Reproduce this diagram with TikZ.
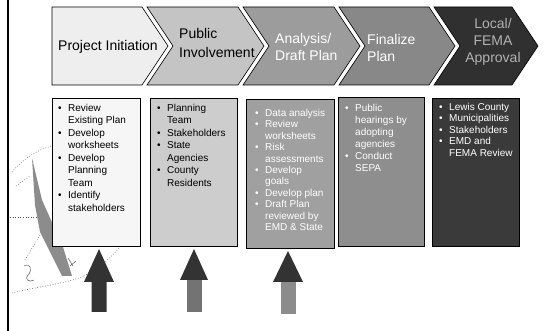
\documentclass[tikz,border=0pt]{standalone}
\usepackage{fontspec}
\setmainfont{Liberation Sans}
\newcommand{\bitem}[1]{\makebox[10pt][l]{•}#1}
\newcommand{\citem}[1]{\hspace*{10pt}#1}
\definecolor{chA}{HTML}{EEEEEE}
\definecolor{chB}{HTML}{C4C4C4}
\definecolor{chC}{HTML}{9C9C9C}
\definecolor{chD}{HTML}{888888}
\definecolor{chE}{HTML}{303030}
\definecolor{bxA}{HTML}{F6F6F6}
\definecolor{bxB}{HTML}{CDCDCD}
\definecolor{bxC}{HTML}{A0A0A0}
\definecolor{bxD}{HTML}{8E8E8E}
\definecolor{bxE}{HTML}{3A3A3A}
\begin{document}
\begin{tikzpicture}[x=1pt,y=-1pt,
  chev/.style={draw=black, line width=0.6pt},
  chtext/.style={inner sep=0pt, align=left, font=\fontsize{14}{17}\selectfont},
  boxr/.style={draw=black, line width=0.8pt},
  btext/.style={anchor=north west, inner sep=0pt, align=left},
  seal/.style={draw=black!70, line width=0.6pt, dotted},
  scrawl/.style={draw=black!65, line width=0.5pt}
]
\useasboundingbox (0,0) rectangle (544,331);
\fill[white] (0,0) rectangle (544,331);
% left rule
\draw[line width=2pt] (8,0) -- (8,331);

% faint seal impression at left
\fill[black!45] (32,158) -- (42,200) -- (63,247) -- (72,276) -- (62,276) -- (40,232) -- (35,205) -- cycle;
\draw[seal] (10,217) -- (38,217);
\draw[seal] (40,235) -- (25,260);
\draw[seal] (12,293) .. controls (40,286) and (65,284) .. (84,276);
\draw[seal] (84,276) .. controls (98,268) and (112,258) .. (120,246);
\draw[seal] (12,172) .. controls (22,160) and (36,150) .. (52,146);
\draw[seal] (16,186) -- (30,176);
\draw[scrawl] (24,266) .. controls (30,262) and (33,270) .. (28,275) .. controls (24,279) and (29,283) .. (34,280);
\draw[scrawl] (68,258) -- (73,266) (70,266) -- (76,261);

% chevrons
\filldraw[chev, fill=chA] (52,7) -- (142,7) -- (168,46) -- (142,85) -- (52,85) -- cycle;
\filldraw[chev, fill=chB] (147,7) -- (238,7) -- (264,46) -- (238,85) -- (147,85) -- (173,46) -- cycle;
\filldraw[chev, fill=chC] (243,7) -- (334,7) -- (360,46) -- (334,85) -- (243,85) -- (269,46) -- cycle;
\filldraw[chev, fill=chD] (339,7) -- (429,7) -- (455,46) -- (429,85) -- (339,85) -- (365,46) -- cycle;
\filldraw[chev, fill=chE] (434,7) -- (512,7) -- (538,46) -- (512,85) -- (434,85) -- (460,46) -- cycle;

\node[chtext] (t1) at (108,47) {Project Initiation};
\node[chtext, anchor=west] (t2) at (179,43) {Public\\[2pt]Involvement};
\node[chtext, anchor=west, text=white] (t3) at (275,47) {Analysis/\\Draft Plan};
\node[chtext, anchor=west, text=white] (t4) at (367,48) {Finalize\\Plan};
\node[chtext, align=center, text=black!30] (t5) at (493,42) {Local/\\FEMA\\Approval};

% boxes
\node[boxr, fill=bxA, anchor=north west, minimum width=88pt, minimum height=148pt, inner sep=0pt] (b1) at (52,98) {};
\node[boxr, fill=bxB, anchor=north west, minimum width=87pt, minimum height=148pt, inner sep=0pt] (b2) at (150,98) {};
\node[boxr, fill=bxC, anchor=north west, minimum width=88pt, minimum height=149pt, inner sep=0pt] (b3) at (246,99) {};
\node[boxr, fill=bxD, anchor=north west, minimum width=86pt, minimum height=149pt, inner sep=0pt] (b4) at (338,97) {};
\node[boxr, fill=bxE, anchor=north west, minimum width=87pt, minimum height=148pt, inner sep=0pt] (b5) at (432,98) {};

\node[btext, font=\fontsize{10}{12.5}\selectfont] (l1) at (58,104)
 {\bitem{Review}\\\citem{Existing Plan}\\\bitem{Develop}\\\citem{worksheets}\\\bitem{Develop}\\\citem{Planning}\\\citem{Team}\\\bitem{Identify}\\\citem{stakeholders}};
\node[btext, font=\fontsize{10}{12.5}\selectfont] (l2) at (157,104)
 {\bitem{Planning}\\\citem{Team}\\\bitem{Stakeholders}\\\bitem{State}\\\citem{Agencies}\\\bitem{County}\\\citem{Residents}};
\node[btext, text=white, font=\fontsize{10}{11.4}\selectfont] (l3) at (255,109)
 {\bitem{Data analysis}\\\bitem{Review}\\\citem{worksheets}\\\bitem{Risk}\\\citem{assessments}\\\bitem{Develop}\\\citem{goals}\\\bitem{Develop plan}\\\bitem{Draft Plan}\\\citem{reviewed by}\\\citem{EMD \& State}};
\node[btext, text=white, font=\fontsize{10}{12}\selectfont] (l4) at (345,104)
 {\bitem{Public}\\\citem{hearings by}\\\citem{adopting}\\\citem{agencies}\\\bitem{Conduct}\\\citem{SEPA}};
\node[btext, text=white, font=\fontsize{10}{11.5}\selectfont] (l5) at (439,103)
 {\bitem{Lewis County}\\\bitem{Municipalities}\\\bitem{Stakeholders}\\\bitem{EMD and}\\\citem{FEMA Review}};

% up arrows
\coordinate (a1) at (99,249);
\coordinate (a2) at (194,249);
\coordinate (a3) at (288,251);
\fill[black!80] (a1) -- ++(-15,33) -- ++(7.5,0) -- ++(0,30) -- ++(15,0) -- ++(0,-30) -- ++(7.5,0) -- cycle;
\fill[black!55] (194-7.5,280) rectangle (194+7.5,312);
\fill[black!80] (a2) -- ++(-14,31) -- ++(28,0) -- cycle;
\fill[black!45] (288-7.5,282) rectangle (288+7.5,314);
\fill[black!80] (a3) -- ++(-15,31) -- ++(30,0) -- cycle;
\end{tikzpicture}
\end{document}
